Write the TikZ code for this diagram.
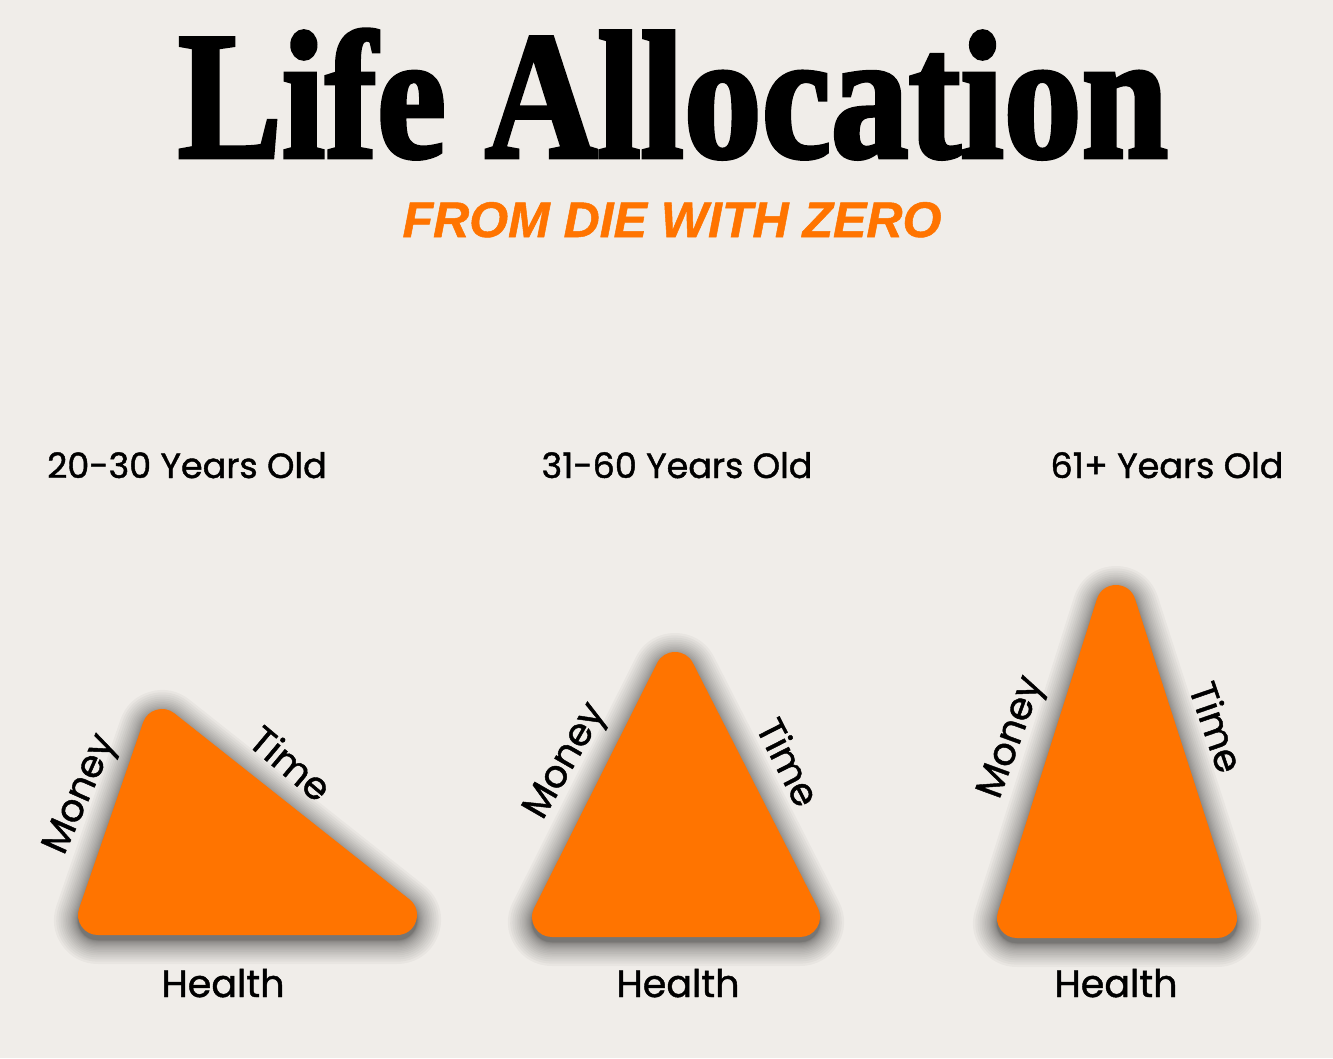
\documentclass[tikz,border=0pt]{standalone}
\usepackage{fontspec}
\setmainfont{Poppins}[FakeBold=1.2]
\newfontfamily\titlefont{Liberation Serif}[FakeBold=2.5]
\newfontfamily\subfont{Liberation Sans}[FakeBold=1]
\usetikzlibrary{positioning}
\definecolor{bgcolor}{HTML}{F0EDE9}
\definecolor{triorange}{HTML}{FF7400}

\begin{document}
\begin{tikzpicture}[
  x=1pt, y=-1pt,
  lbl/.style={inner sep=0pt, font=\fontsize{38}{38}\selectfont},
  agelbl/.style={inner sep=0pt, anchor=base, font=\fontsize{35}{35}\selectfont},
  tri/.style={fill=triorange, draw=triorange, line width=40pt, line join=round},
  shade/.style={draw=black, opacity=0.03, line join=round, shift={(0,5)}},
]
\fill[bgcolor] (0,0) rectangle (1333,1058);
\useasboundingbox (0,0) rectangle (1333,1058);

% heading
\node[anchor=base, inner sep=0pt] (title) at (673,157)
     {\scalebox{0.86}[1]{\fontsize{181}{181}\selectfont\titlefont\bfseries Life Allocation}};
\node[anchor=base, inner sep=0pt, text=triorange] (subtitle) at (672,237)
     {\fontsize{50}{50}\selectfont\subfont\bfseries\itshape FROM DIE WITH ZERO};

% age groups
\node[agelbl] (age1) at (187,478) {20-30 Years Old};
\node[agelbl] (age2) at (677,478) {31-60 Years Old};
\node[agelbl] (age3) at (1167,478) {61+ Years Old};

% shadows
\foreach \k [evaluate=\k as \w using 40+0.12*\k*\k] in {1,...,20}{
  \draw[shade, line width=\w pt] (162,729) -- (98,915) -- (397,915) -- cycle;
  \draw[shade, line width=\w pt] (675,672) -- (552,917) -- (800,917) -- cycle;
  \draw[shade, line width=\w pt] (1116,605) -- (1017,918) -- (1217,918) -- cycle;
}

% triangles
\filldraw[tri] (162,729) -- (98,915) -- (397,915) -- cycle;
\filldraw[tri] (675,672) -- (552,917) -- (800,917) -- cycle;
\filldraw[tri] (1116,605) -- (1017,918) -- (1217,918) -- cycle;

% side labels
\node[lbl, rotate=66]  (money1) at (82,795)   {Money};
\node[lbl, rotate=-40] (time1)  at (291,763)  {Time};
\node[lbl, rotate=60]  (money2) at (567,762)  {Money};
\node[lbl, rotate=-63] (time2)  at (789,762)  {Time};
\node[lbl, rotate=70]  (money3) at (1013,738) {Money};
\node[lbl, rotate=-71] (time3)  at (1217,727) {Time};

\node[lbl, anchor=base] (health1) at (223,997)  {Health};
\node[lbl, anchor=base] (health2) at (678,997)  {Health};
\node[lbl, anchor=base] (health3) at (1116,997) {Health};
\end{tikzpicture}
\end{document}
